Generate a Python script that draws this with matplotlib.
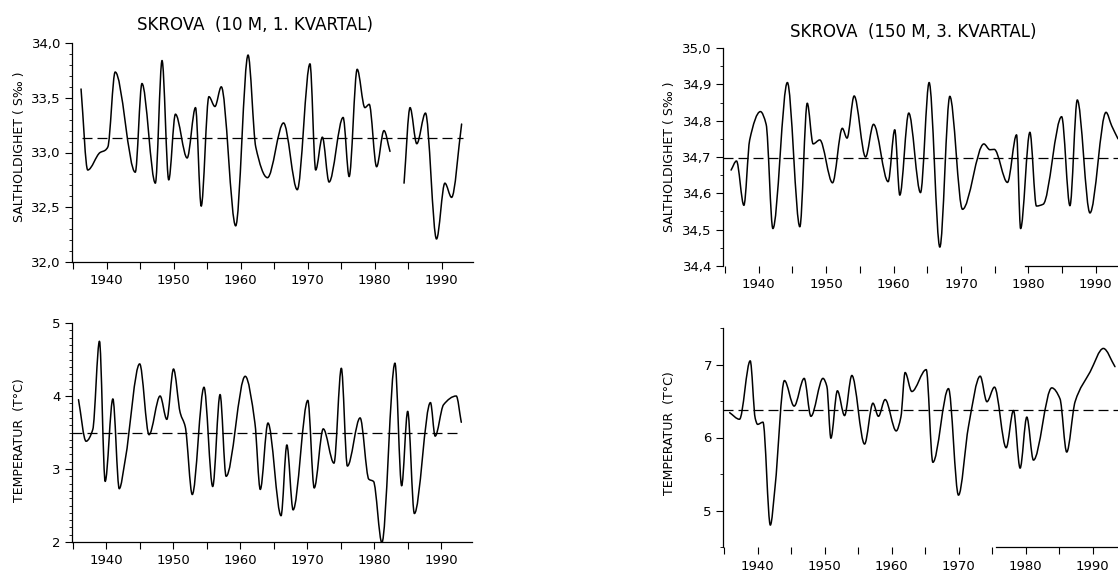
import numpy as np
import matplotlib
matplotlib.use("Agg")
import matplotlib.pyplot as plt
from matplotlib.path import Path
from matplotlib.patches import PathPatch
from matplotlib.ticker import MultipleLocator, FuncFormatter

# Skrova 10 m, 1st quarter: salinity (nan = gap in the record)
sal10_years = [1936.15, 1937.15, 1939.0, 1939.75, 1940.15, 1941.25, 1944.25, 1945.25,
               1947.25, 1948.25, 1949.25, 1950.25, 1952.0, 1953.25, 1954.1, 1955.25,
               1956.15, 1957.1, 1959.25, 1961.1, 1962.25, 1964.0, 1966.4, 1968.45,
               1970.35, 1971.2, 1972.2, 1973.2, 1975.3, 1976.2, 1977.4, 1978.55,
               1979.2, 1980.3, 1981.4, 1982.3, np.nan,
               1984.4, 1985.3, 1986.3, 1987.6, 1989.25, 1990.5, 1991.5, 1993.0]
sal10_vals = [33.58, 32.84, 33.0, 33.02, 33.05, 33.735, 32.82, 33.63,
              32.72, 33.84, 32.75, 33.35, 32.95, 33.41, 32.51, 33.51,
              33.42, 33.6, 32.33, 33.89, 33.05, 32.77, 33.27, 32.66,
              33.81, 32.84, 33.14, 32.73, 33.32, 32.78, 33.76, 33.41,
              33.44, 32.87, 33.2, 33.01, np.nan,
              32.72, 33.41, 33.08, 33.36, 32.21, 32.72, 32.59, 33.26]
sal10_mean = 33.13
sal10_mean_span = (1936.3, 1993.2)

# Skrova 10 m, 1st quarter: temperature
tmp10_years = [1935.87, 1937.0, 1938.0, 1939.0, 1939.85, 1941.0, 1941.95, 1942.85,
               1945.0, 1946.4, 1948.05, 1949.05, 1950.05, 1951.05, 1951.8, 1952.85,
               1954.6, 1955.9, 1957.0, 1957.9, 1960.75, 1962.2, 1963.0, 1964.15,
               1966.1, 1966.97, 1967.9, 1970.1, 1971.05, 1972.4, 1974.0, 1975.1,
               1976.0, 1977.9, 1979.2, 1979.9, 1981.15, 1983.1, 1984.1, 1985.0,
               1986.0, 1988.4, 1989.1, 1990.35, 1992.25, 1993.0]
tmp10_vals = [3.95, 3.38, 3.54, 4.75, 2.83, 3.96, 2.73, 3.13,
              4.44, 3.47, 4.0, 3.68, 4.37, 3.77, 3.58, 2.65,
              4.12, 2.76, 4.02, 2.9, 4.27, 3.63, 2.72, 3.63,
              2.36, 3.33, 2.44, 3.94, 2.74, 3.55, 3.08, 4.38,
              3.04, 3.70, 2.86, 2.83, 1.99, 4.45, 2.77, 3.79,
              2.39, 3.91, 3.45, 3.88, 4.0, 3.64]
tmp10_mean = 3.50
tmp10_mean_span = (1934.9, 1992.3)

# Skrova 150 m, 3rd quarter: salinity
sal150_years = [1935.9, 1936.7, 1937.8, 1938.66, 1940.25, 1941.1, 1942.1, 1944.25,
                1946.1, 1947.2, 1948.07, 1949.06, 1950.95, 1952.4, 1953.1, 1954.16,
                1955.85, 1957.03, 1959.2, 1960.18, 1960.93, 1962.26, 1964.0, 1965.28,
                1966.87, 1968.35, 1970.23, 1973.4, 1974.3, 1974.94, 1976.9, 1978.25,
                1978.85, 1980.23, 1981.2, 1982.2, 1984.94, 1986.17, 1987.26, 1989.14,
                1991.52, 1992.36, 1993.3]
sal150_vals = [34.664, 34.689, 34.567, 34.747, 34.825, 34.79, 34.503, 34.905,
               34.508, 34.848, 34.736, 34.747, 34.629, 34.779, 34.752, 34.868,
               34.70, 34.79, 34.632, 34.775, 34.595, 34.821, 34.602, 34.905,
               34.452, 34.867, 34.556, 34.736, 34.72, 34.721, 34.63, 34.761,
               34.503, 34.768, 34.565, 34.57, 34.811, 34.566, 34.857, 34.546,
               34.823, 34.786, 34.75]
sal150_mean = 34.698

# Skrova 150 m, 3rd quarter: temperature
tmp150_years = [1935.83, 1937.3, 1938.9, 1939.65, 1940.0, 1940.8, 1941.9, 1942.6,
                1944.0, 1945.45, 1946.95, 1947.95, 1949.75, 1950.33, 1950.93, 1951.9,
                1952.97, 1954.06, 1955.95, 1957.2, 1958.02, 1959.02, 1960.67, 1961.37,
                1962.0, 1963.0, 1965.15, 1966.14, 1968.47, 1969.96, 1971.45, 1973.2,
                1974.2, 1975.33, 1977.07, 1978.16, 1979.15, 1980.15, 1981.14, 1983.87,
                1985.1, 1986.1, 1987.35, 1989.6, 1991.57, 1993.3]
tmp150_vals = [6.34, 6.25, 7.05, 6.26, 6.18, 6.21, 4.80, 5.32,
               6.78, 6.43, 6.81, 6.29, 6.81, 6.70, 5.99, 6.64,
               6.30, 6.85, 5.91, 6.47, 6.29, 6.52, 6.09, 6.28,
               6.89, 6.63, 6.93, 5.66, 6.67, 5.21, 6.15, 6.84,
               6.49, 6.69, 5.86, 6.37, 5.58, 6.28, 5.69, 6.68,
               6.53, 5.80, 6.49, 6.90, 7.22, 6.97]
tmp150_mean = 6.38

titles = ["SKROVA  (10 M, 1. KVARTAL)", "SKROVA  (150 M, 3. KVARTAL)"]
sal_label = "SALTHOLDIGHET ( S\u2030 )"
tmp_label = "TEMPERATUR  (T\u00b0C)"

W, H = 1118, 572
plt.rcParams["font.family"] = "DejaVu Sans"

fig = plt.figure(figsize=(W / 100, H / 100), dpi=100)
fig.patch.set_facecolor("white")

DASH = (0, (8, 4))


def add_axes_px(x0, y0, x1, y1):
    return fig.add_axes([x0 / W, 1 - y1 / H, (x1 - x0) / W, (y1 - y0) / H])


def smooth_line(ax, xs, ys):
    # hand-drawn look: monotone cubic bezier through the read points
    xs = np.asarray(xs, float)
    ys = np.asarray(ys, float)
    breaks = np.where(np.isnan(xs))[0]
    starts = np.r_[0, breaks + 1]
    ends = np.r_[breaks, len(xs)]
    for a, b in zip(starts, ends):
        x, y = xs[a:b], ys[a:b]
        h = np.diff(x)
        d = np.diff(y) / h
        m = np.zeros(len(x))
        m[0], m[-1] = d[0], d[-1]
        for k in range(1, len(x) - 1):
            if d[k - 1] * d[k] > 0:
                w1 = 2 * h[k] + h[k - 1]
                w2 = h[k] + 2 * h[k - 1]
                m[k] = (w1 + w2) / (w1 / d[k - 1] + w2 / d[k])
        verts = [(x[0], y[0])]
        codes = [Path.MOVETO]
        for k in range(len(x) - 1):
            verts += [(x[k] + h[k] / 3, y[k] + m[k] * h[k] / 3),
                      (x[k + 1] - h[k] / 3, y[k + 1] - m[k + 1] * h[k] / 3),
                      (x[k + 1], y[k + 1])]
            codes += [Path.CURVE4] * 3
        ax.add_patch(PathPatch(Path(verts, codes), fill=False, ec="black",
                               lw=1.1, capstyle="round", joinstyle="round"))


def style(ax, xlim, ylim, ymajor, yminor, ydec):
    ax.set_xlim(xlim)
    ax.set_ylim(ylim)
    ax.patch.set_visible(False)
    ax.spines["top"].set_visible(False)
    ax.spines["right"].set_visible(False)
    for s in ["left", "bottom"]:
        ax.spines[s].set_linewidth(0.9)
    ax.xaxis.set_major_locator(MultipleLocator(5))
    ax.xaxis.set_major_formatter(
        FuncFormatter(lambda v, p: f"{v:.0f}" if round(v) % 10 == 0 else ""))
    ax.yaxis.set_major_locator(MultipleLocator(ymajor))
    ax.yaxis.set_minor_locator(MultipleLocator(yminor))
    ax.yaxis.set_major_formatter(
        FuncFormatter(lambda v, p: f"{v:.{ydec}f}".replace(".", ",")))
    ax.tick_params(which="major", direction="out", length=5, width=0.8,
                   labelsize=9.5, pad=3)
    ax.tick_params(axis="x", pad=4)
    ax.tick_params(axis="y", which="minor", direction="out", length=2.5, width=0.6)


# top left: salinity 10 m
ax1 = add_axes_px(72, 43, 473, 262)
style(ax1, (1934.8, 1994.7), (32.0, 34.0), 0.5, 0.1, 1)
smooth_line(ax1, sal10_years, sal10_vals)
ax1.hlines(sal10_mean, *sal10_mean_span, colors="black", lw=0.9, linestyles=DASH)

# bottom left: temperature 10 m
ax2 = add_axes_px(72, 323, 472, 542)
style(ax2, (1934.9, 1994.6), (2.0, 5.0), 1, 0.1, 0)
smooth_line(ax2, tmp10_years, tmp10_vals)
ax2.hlines(tmp10_mean, *tmp10_mean_span, colors="black", lw=0.9, linestyles=DASH)

# top right: salinity 150 m
ax3 = add_axes_px(723, 48, 1118, 266)
style(ax3, (1934.7, 1993.3), (34.4, 35.0), 0.1, 0.05, 1)
ax3.spines["bottom"].set_bounds(1979.5, 1993.3)
smooth_line(ax3, sal150_years, sal150_vals)
ax3.axhline(sal150_mean, color="black", lw=0.9, ls=DASH)

# bottom right: temperature 150 m
ax4 = add_axes_px(723, 328, 1118, 547)
style(ax4, (1934.84, 1993.75), (4.5, 7.5), 1, 0.5, 0)
ax4.spines["bottom"].set_bounds(1975.5, 1993.75)
smooth_line(ax4, tmp150_years, tmp150_vals)
ax4.axhline(tmp150_mean, color="black", lw=0.9, ls=DASH)

fig.text(255 / W, 1 - 25 / H, titles[0], ha="center", va="center", fontsize=12)
fig.text(913 / W, 1 - 32 / H, titles[1], ha="center", va="center", fontsize=12)
for x, y, lab in [(20, 147, sal_label), (20, 440, tmp_label),
                  (670, 157, sal_label), (670, 433, tmp_label)]:
    fig.text(x / W, 1 - y / H, lab, rotation=90, ha="center", va="center", fontsize=9)

fig.savefig("out.png", dpi=100, facecolor="white")
